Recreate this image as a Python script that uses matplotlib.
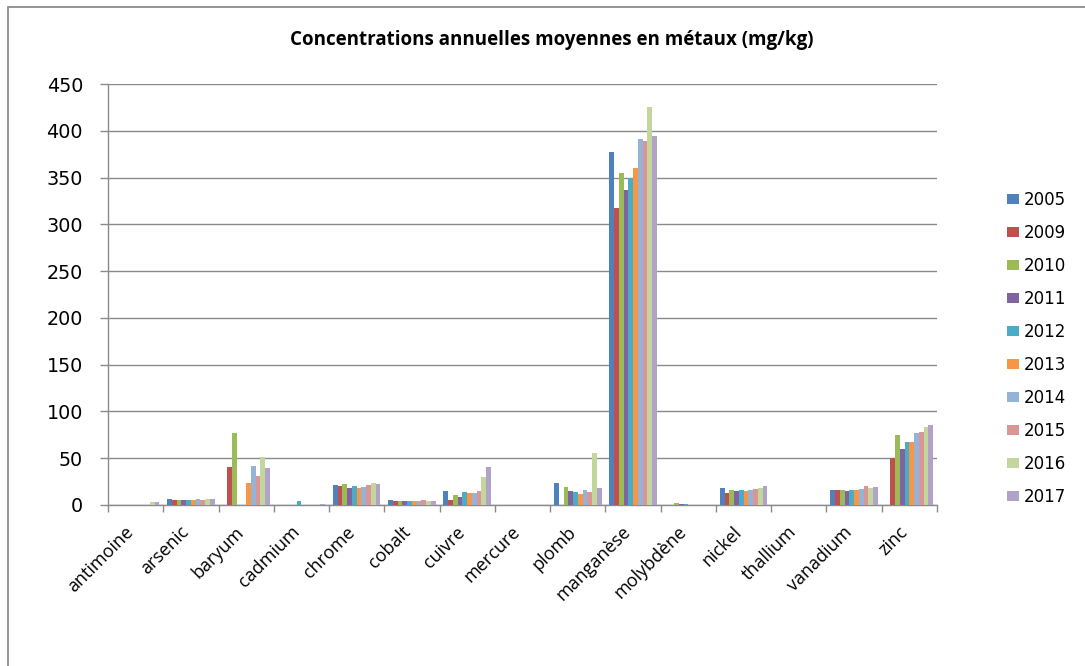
import numpy as np
import matplotlib.pyplot as plt
from matplotlib.patches import Rectangle
from matplotlib.transforms import ScaledTranslation

nan = np.nan

metals = ["antimoine", "arsenic", "baryum", "cadmium", "chrome", "cobalt", "cuivre",
          "mercure", "plomb", "manganèse", "molybdène", "nickel", "thallium",
          "vanadium", "zinc"]

years = ["2005", "2009", "2010", "2011", "2012", "2013", "2014", "2015", "2016", "2017"]

c2005 = [nan, 6.8, nan, nan, 21.4, 5.7, 15.0, nan, 23.5, 377.0, nan, 18.6, nan, 16.4, nan]
c2009 = [nan, 5.7, 40.7, nan, 20.4, 4.6, 5.7, nan, nan, 317.8, nan, 13.2, nan, 16.4, 50.0]
c2010 = [nan, 5.7, 76.8, nan, 22.5, 4.6, 10.7, nan, 19.2, 354.5, 2.5, 16.0, nan, 16.4, 74.6]
c2011 = [nan, 5.7, nan, nan, 18.2, 4.6, 8.6, nan, 15.0, 336.7, 1.0, 15.0, nan, 15.4, 59.6]
c2012 = [nan, 5.7, nan, 4.6, 20.4, 4.6, 13.9, nan, 13.9, 349.8, 1.4, 16.0, nan, 16.4, 67.5]
c2013 = [nan, 5.7, 23.6, nan, 18.2, 4.6, 12.9, nan, 11.8, 360.0, nan, 15.0, nan, 16.4, 67.5]
c2014 = [nan, 6.8, 41.8, nan, 19.3, 4.6, 12.9, nan, 16.0, 391.5, nan, 16.0, nan, 17.5, 77.1]
c2015 = [nan, 5.7, 31.0, nan, 21.4, 5.7, 15.0, nan, 13.9, 388.7, nan, 17.5, nan, 20.4, 78.2]
c2016 = [3.6, 6.8, 51.4, nan, 23.6, 4.6, 30.0, nan, 55.6, 425.4, nan, 18.6, nan, 18.6, 83.2]
c2017 = [3.5, 6.8, 39.6, 1.4, 22.5, 4.6, 40.7, nan, 18.2, 394.7, nan, 20.4, nan, 19.6, 85.4]

series = [c2005, c2009, c2010, c2011, c2012, c2013, c2014, c2015, c2016, c2017]
colors = ["#4F81BD", "#C0504D", "#9BBB59", "#8064A2", "#4BACC6",
          "#F79646", "#95B3D7", "#D99694", "#C3D69B", "#B3A2C7"]

W, H = 1085, 666
fig = plt.figure(figsize=(W / 100, H / 100), dpi=100)
fig.patch.set_facecolor("white")

# chart frame (left and top edges visible)
fig.patches.append(Rectangle((8 / W, -0.02), 1.2, (H - 7) / H + 0.02,
                             transform=fig.transFigure, fill=False,
                             edgecolor="#8c8c8c", linewidth=1.3))

left, right, top, bottom = 108, 937, 84, 505
ax = fig.add_axes([left / W, 1 - bottom / H, (right - left) / W, (bottom - top) / H])

n = len(series)
bw = 0.86 / n
x = np.arange(len(metals))
for i, (vals, col, yr) in enumerate(zip(series, colors, years)):
    ax.bar(x - 0.43 + bw * (i + 0.5), vals, width=bw, color=col, label=yr,
           edgecolor="none", zorder=3)

ax.set_xlim(-0.5, len(metals) - 0.5)
ax.set_ylim(0, 450)
ax.set_yticks(np.arange(0, 451, 50))
ax.yaxis.grid(True, color="#8a8a8a", linewidth=1.0, zorder=0)
ax.set_axisbelow(True)

for s in ["top", "right"]:
    ax.spines[s].set_visible(False)
for s in ["left", "bottom"]:
    ax.spines[s].set_color("#8a8a8a")
    ax.spines[s].set_linewidth(1.0)

# category labels, rotated and anchored just below-left of each category centre
ax.set_xticks(x)
ax.set_xticklabels([])
ax.tick_params(axis="x", length=0)
label_tr = ax.get_xaxis_transform() + ScaledTranslation(-0.11, -0.18, fig.dpi_scale_trans)
for xi, name in zip(x, metals):
    ax.text(xi, 0, name, transform=label_tr, rotation=45, rotation_mode="anchor",
            ha="right", va="top", fontsize=13, family="Open Sans")

ax.set_xticks(np.arange(-0.5, len(metals) + 0.5, 1), minor=True)
ax.tick_params(axis="x", which="minor", length=5, width=1.0, color="#8a8a8a", direction="out")
ax.tick_params(axis="y", length=6, width=1.0, color="#8a8a8a", pad=12, labelsize=13.8)
for lab in ax.get_yticklabels():
    lab.set_family("DejaVu Sans")

fig.text(552 / W, 1 - 40 / H, "Concentrations annuelles moyennes en métaux (mg/kg)",
         ha="center", va="center", fontsize=13.5, fontweight="bold", family="Open Sans")

leg = fig.legend(loc="upper left", bbox_to_anchor=(992 / W, 1 - 176 / H),
                 frameon=False, handlelength=0.7, handleheight=0.6,
                 handletextpad=0.3, labelspacing=0.9,
                 prop={"family": "DejaVu Sans", "size": 12})

fig.savefig("out.png", dpi=100, facecolor="white")
